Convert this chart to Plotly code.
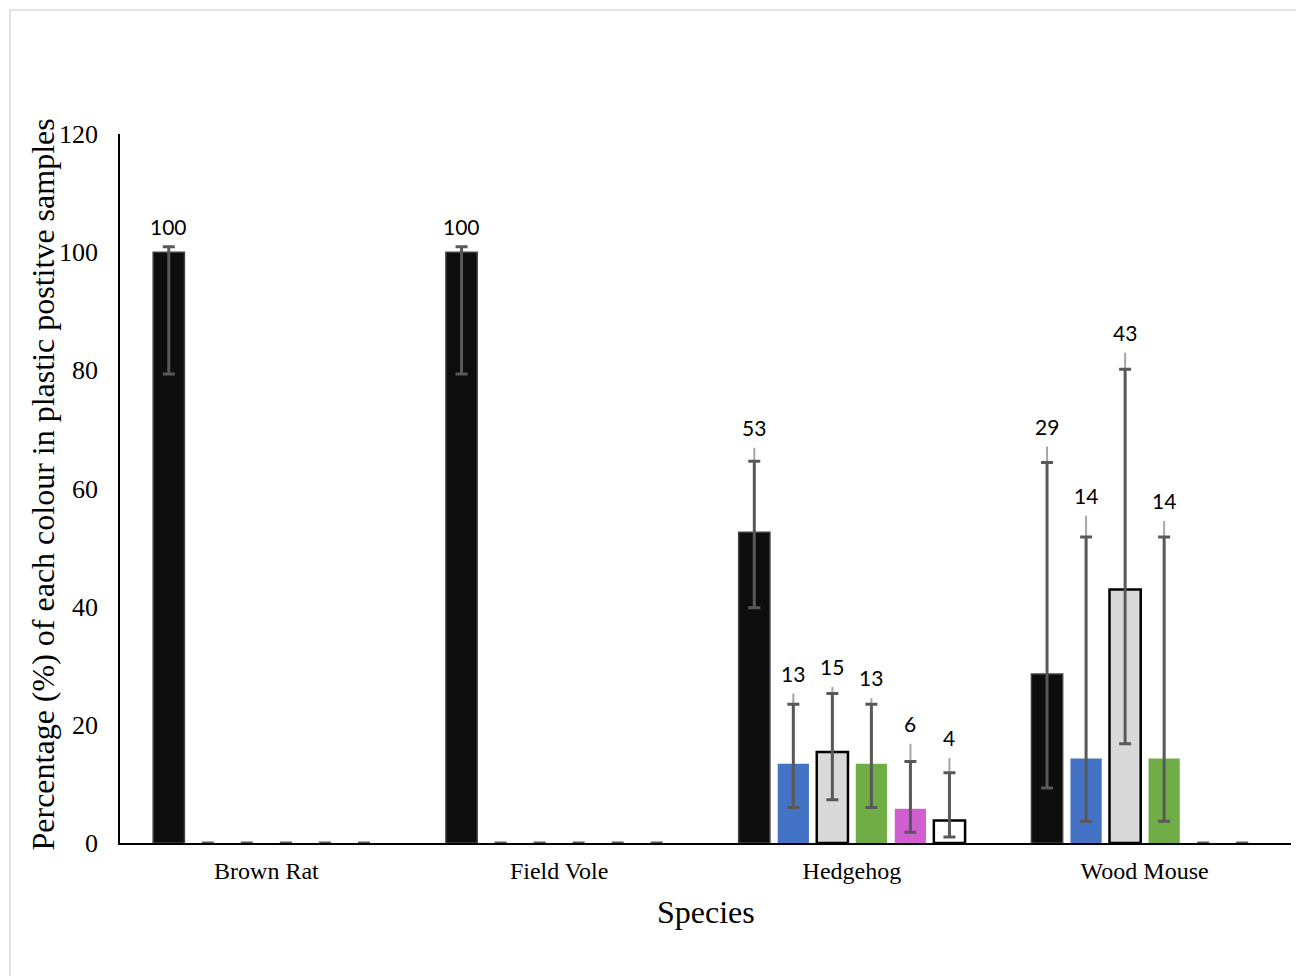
import plotly.graph_objects as go

species = ["Brown Rat", "Field Vole", "Hedgehog", "Wood Mouse"]
colour_names = ["Black", "Blue", "Grey", "Green", "Pink", "White"]

# percentage of each colour (series) per species
values = {
    "Black": [100, 100, 52.6, 28.6],
    "Blue":  [0, 0, 13.4, 14.3],
    "Grey":  [0, 0, 15.4, 42.9],
    "Green": [0, 0, 13.4, 14.3],
    "Pink":  [0, 0, 5.8, 0],
    "White": [0, 0, 3.8, 0],
}
# dark (capped) error bar limits
err_hi = {
    "Black": [100.9, 100.9, 64.6, 64.4],
    "Blue":  [0, 0, 23.5, 51.8],
    "Grey":  [0, 0, 25.3, 80.2],
    "Green": [0, 0, 23.5, 51.8],
    "Pink":  [0, 0, 13.8, 0],
    "White": [0, 0, 11.9, 0],
}
err_lo = {
    "Black": [79.4, 79.4, 39.8, 9.3],
    "Blue":  [0, 0, 6.0, 3.7],
    "Grey":  [0, 0, 7.3, 16.8],
    "Green": [0, 0, 6.0, 3.7],
    "Pink":  [0, 0, 1.8, 0],
    "White": [0, 0, 1.0, 0],
}
# light (uncapped) interval upper limit
light_hi = {
    "Black": [100.9, 100.9, 66.9, 67.1],
    "Blue":  [0, 0, 25.3, 55.4],
    "Grey":  [0, 0, 26.4, 83.0],
    "Green": [0, 0, 24.5, 54.5],
    "Pink":  [0, 0, 16.8, 0],
    "White": [0, 0, 14.4, 0],
}

fills = {"Black": "#0d0d0d", "Blue": "#4472c4", "Grey": "#d9d9d9",
         "Green": "#70ad47", "Pink": "#d15fcf", "White": "#ffffff"}
lines = {"Black": ("#404040", 1.5), "Blue": ("#4472c4", 0), "Grey": ("#000000", 2.5),
         "Green": ("#70ad47", 0), "Pink": ("#d15fcf", 0), "White": ("#000000", 2.5)}

fig = go.Figure()

# light lines (behind)
for c in colour_names:
    v = values[c]
    plus = [max(h - y, 0) for h, y in zip(light_hi[c], v)]
    fig.add_trace(go.Bar(
        x=species, y=v, offsetgroup=c, alignmentgroup="a",
        marker=dict(color="rgba(0,0,0,0)", line=dict(width=0)),
        error_y=dict(type="data", symmetric=False, array=plus,
                     arrayminus=[0] * len(v), color="#a6a6a6", thickness=2, width=0),
        showlegend=False, hoverinfo="skip"))

for c in colour_names:
    v = values[c]
    plus = [h - y for h, y in zip(err_hi[c], v)]
    minus = [y - l for l, y in zip(err_lo[c], v)]
    lc, lw = lines[c]
    fig.add_trace(go.Bar(
        x=species, y=v, name=c, offsetgroup=c, alignmentgroup="a",
        marker=dict(color=fills[c],
                    line=dict(color=lc, width=[lw if y > 0 else 0 for y in v])),
        error_y=dict(type="data", symmetric=False, array=plus, arrayminus=minus,
                     color="#595959", thickness=3, width=6),
        showlegend=False))

serif = "Liberation Serif, Times New Roman, serif"
PW, PH = 1171, 709  # plot area size in px

annots = []
n = len(colour_names)
for k, c in enumerate(colour_names):
    for i, s in enumerate(species):
        v = values[c][i]
        if v <= 0:
            continue
        top = max(v, err_hi[c][i], light_hi[c][i])
        off = (k - (n - 1) / 2) * (0.8 / n)
        annots.append(dict(x=i + off, y=top, xref="x", yref="y", text=str(round(v)),
                           showarrow=False, yanchor="bottom", yshift=6,
                           font=dict(family="Lato, Open Sans, sans-serif", size=21, color="#000")))

annots.append(dict(text="Percentage (%) of each colour in plastic postitve samples",
                   xref="paper", yref="paper", x=-78 / PW, y=(843 - 484.5) / PH,
                   xanchor="center", yanchor="middle", textangle=-90, showarrow=False,
                   font=dict(family=serif, size=32, color="#000")))
annots.append(dict(text="Species", xref="paper", yref="paper", x=0.5, y=-69 / PH,
                   xanchor="center", yanchor="middle", showarrow=False,
                   font=dict(family=serif, size=32, color="#000")))

fig.update_layout(
    width=1304, height=976,
    margin=dict(l=112, r=21, t=126, b=141),
    paper_bgcolor="white", plot_bgcolor="white",
    barmode="group", bargap=0.2, bargroupgap=0.2,
    annotations=annots,
    shapes=[dict(type="rect", xref="paper", yref="paper",
                 x0=-110 / PW, x1=1.05, y0=-0.3, y1=(843 - 10) / PH,
                 line=dict(color="#d9d9d9", width=1.5), fillcolor="rgba(0,0,0,0)", layer="below")],
    xaxis=dict(showline=True, linecolor="#000", linewidth=1.5, showgrid=False,
               ticks="", tickfont=dict(family=serif, size=24, color="#000"),
               ticklabelstandoff=5),
    yaxis=dict(range=[0, 120], dtick=20, showline=True, linecolor="#000", linewidth=1.5,
               showgrid=False, zeroline=False, ticks="",
               tickfont=dict(family=serif, size=26, color="#000"), ticklabelstandoff=15),
)

fig.write_html("out.html")
